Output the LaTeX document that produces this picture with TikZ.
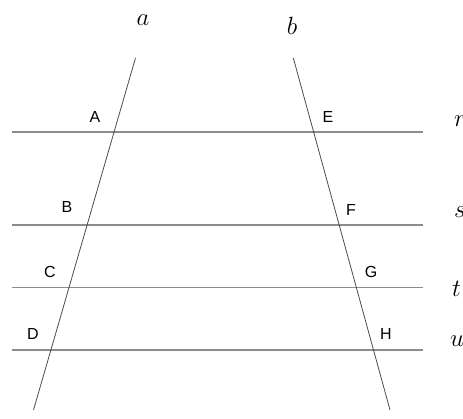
\documentclass[tikz,border=0pt]{standalone}
\usepackage{fontspec}
\newfontfamily\labfont{Liberation Sans}
\begin{document}
\begin{tikzpicture}[x=1pt,y=-1pt,
  hline/.style={draw=black!45,line width=1.4pt},
  sline/.style={draw=black!70,line width=0.8pt},
  ptlab/.style={font=\labfont\fontsize{16}{18}\selectfont,inner sep=0pt},
  lnlab/.style={font=\fontsize{24}{28}\selectfont,inner sep=0pt}]
\useasboundingbox (0,0) rectangle (463,419);
% line end points
\coordinate (a1) at (135.5,58);
\coordinate (a2) at (33.5,410);
\coordinate (b1) at (293.3,58);
\coordinate (b2) at (390,410);
\coordinate (r1) at (12,132);   \coordinate (r2) at (423,132);
\coordinate (s1) at (12,225);   \coordinate (s2) at (423,225);
\coordinate (t1) at (12,287.5); \coordinate (t2) at (423,287.5);
\coordinate (u1) at (12,350);   \coordinate (u2) at (423,350);
% horizontal lines
\draw[hline] (r1) -- (r2);
\draw[hline] (s1) -- (s2);
\draw[hline] (t1) -- (t2);
\draw[hline] (u1) -- (u2);
% transversals
\draw[sline] (a1) -- (a2);
\draw[sline] (b1) -- (b2);
% point labels
\node[ptlab] (A) at (95,117) {A};
\node[ptlab] (E) at (328,117) {E};
\node[ptlab] (B) at (67,207) {B};
\node[ptlab] (F) at (351,210) {F};
\node[ptlab] (C) at (50,272) {C};
\node[ptlab] (G) at (371,272) {G};
\node[ptlab] (D) at (33,334) {D};
\node[ptlab] (H) at (386,334) {H};
% line labels
\node[lnlab,anchor=base] (la) at (143,26) {$a$};
\node[lnlab,anchor=base] (lb) at (292,35) {$b$};
\node[lnlab,anchor=base west] (lr) at (454,127) {$r$};
\node[lnlab,anchor=base west] (ls) at (454,218) {$s$};
\node[lnlab,anchor=base west] (lt) at (452,297) {$t$};
\node[lnlab,anchor=base west] (lu) at (450,347) {$u$};
\end{tikzpicture}
\end{document}
